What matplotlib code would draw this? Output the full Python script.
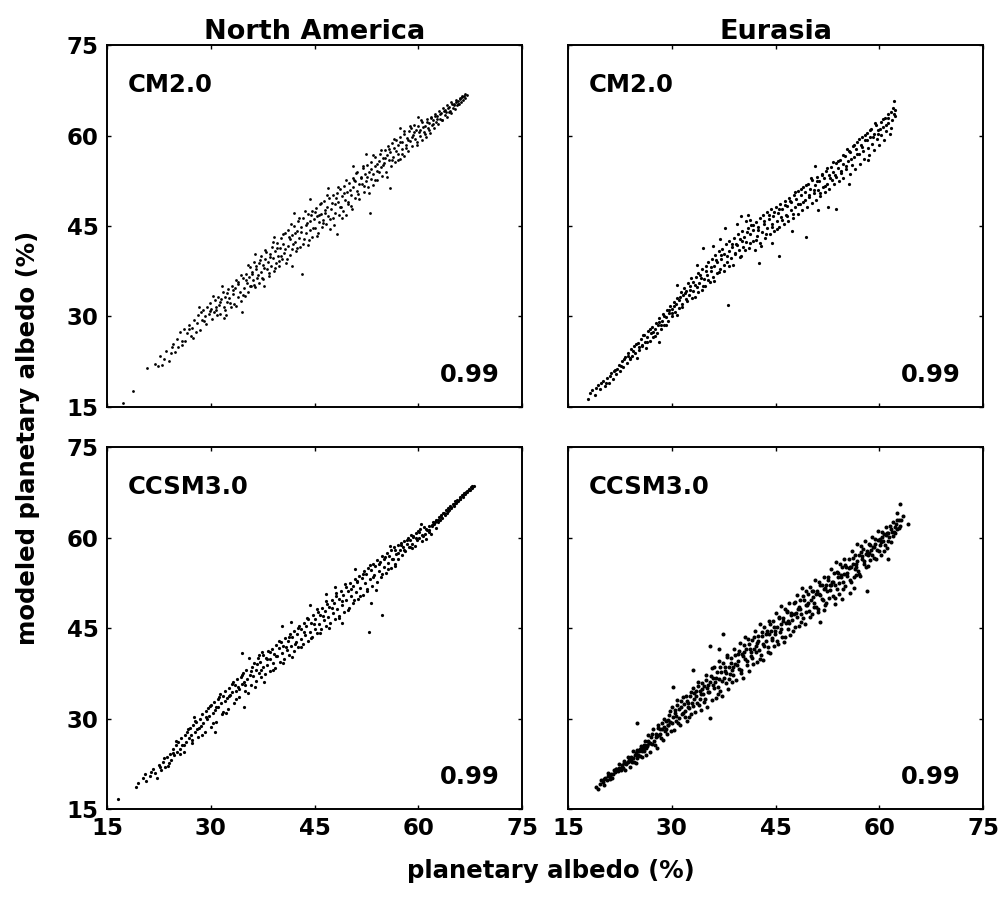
import numpy as np
import matplotlib.pyplot as plt

na_cm2 = [(17.3, 15.7), (18.8, 17.6), (20.8, 21.4),
    (22.0, 22.2), (22.4, 21.8), (22.6, 23.4), (23.0, 22.0), (23.3, 23.0), (23.5, 24.3), (23.9, 22.6), (24.2, 23.9), (24.6, 25.4), (24.8, 24.1),
    (25.1, 26.2), (25.3, 25.0), (25.6, 27.4), (25.8, 26.0), (26.1, 28.0), (26.3, 25.9), (26.6, 27.2), (26.8, 28.6), (27.1, 26.8), (27.3, 28.1), (27.6, 29.4), (27.8, 27.5),
    (28.0, 28.9), (28.2, 30.3), (28.4, 27.8), (28.7, 29.5), (28.9, 31.0), (29.1, 30.1), (29.3, 28.7), (29.5, 31.6), (29.7, 30.4), (29.9, 32.3), (30.1, 31.2), (30.2, 29.6),
    (30.4, 30.8), (30.6, 32.8), (30.7, 31.5), (30.9, 30.2), (31.0, 33.2), (31.2, 31.9), (31.4, 30.4), (31.5, 32.9), (31.7, 34.0), (31.9, 31.6), (32.0, 33.3), (32.2, 30.2),
    (32.3, 32.4), (32.5, 34.6), (32.7, 33.0), (32.9, 31.5), (33.0, 35.1), (33.2, 33.7), (33.4, 32.1), (33.5, 34.8), (33.7, 36.0), (33.9, 33.2), (34.0, 35.4), (34.2, 34.0),
    (34.3, 32.5), (34.5, 30.7), (34.6, 36.3), (34.8, 34.7), (34.9, 33.4), (35.1, 37.0), (35.2, 35.5), (35.4, 34.1), (35.5, 36.6), (35.7, 38.2), (35.8, 35.0), (36.0, 37.4),
    (36.1, 36.0), (36.3, 39.0), (36.4, 34.9), (36.6, 37.9), (36.7, 36.4), (36.9, 38.8), (37.0, 35.6), (37.2, 40.1), (37.3, 37.3), (37.5, 38.6), (37.6, 36.2), (37.8, 39.5),
    (37.9, 41.0), (38.1, 37.8), (38.2, 39.1), (38.4, 36.7), (38.5, 40.4), (38.7, 38.3), (38.8, 41.6), (39.0, 39.7), (39.1, 37.6), (39.3, 40.9), (39.4, 38.8), (39.6, 42.2),
    (39.7, 40.0), (39.9, 38.4), (40.0, 41.4), (40.2, 43.0), (40.3, 39.5), (40.5, 42.0), (40.6, 40.6), (40.8, 43.8), (40.9, 38.9), (41.1, 41.7), (41.2, 44.4), (41.4, 42.8),
    (41.5, 40.2), (41.7, 43.5), (41.8, 41.2), (42.0, 47.2), (42.0, 45.0), (42.2, 42.4), (42.3, 40.9), (42.5, 44.1), (42.6, 45.8), (42.8, 43.0), (42.9, 41.6), (43.1, 44.8),
    (43.2, 37.1), (43.4, 46.4), (43.5, 42.9), (43.7, 45.2), (43.8, 43.9), (44.0, 47.0), (44.1, 41.8), (44.3, 45.9), (44.4, 44.3), (44.6, 47.5), (44.7, 43.1), (44.9, 46.2),
    (45.0, 44.7), (45.2, 48.0), (45.3, 46.6), (45.5, 43.9), (45.6, 45.6), (45.8, 48.6), (45.9, 47.0), (46.1, 44.8), (46.2, 46.0), (46.4, 49.1), (46.5, 47.6), (46.7, 45.4),
    (46.8, 48.2), (47.0, 46.7), (47.1, 49.7), (47.3, 44.5), (47.4, 47.9), (47.6, 50.2), (47.7, 46.3), (47.9, 48.7), (48.0, 47.2), (48.3, 43.7), (48.2, 50.4), (48.4, 49.0),
    (48.5, 46.8), (48.7, 51.1), (48.8, 48.2), (49.0, 50.0), (49.1, 47.5), (49.3, 51.6), (49.4, 49.3), (49.6, 46.9), (49.7, 50.7), (49.9, 48.6), (50.0, 52.1), (50.2, 50.1),
    (50.3, 48.4), (50.5, 51.5), (50.6, 53.0), (50.8, 49.6), (50.9, 52.4), (51.1, 50.8), (51.2, 54.0), (51.4, 51.9), (51.5, 49.5), (51.7, 53.2), (51.8, 52.0), (52.0, 54.6),
    (52.1, 50.6), (52.3, 53.6), (52.4, 52.4), (52.6, 55.1), (52.7, 51.4), (53.0, 47.1), (52.9, 54.0), (53.1, 52.8), (53.2, 55.6), (53.4, 53.7), (53.5, 51.8), (53.7, 55.0),
    (53.8, 56.4), (54.0, 54.2), (54.1, 52.6), (54.3, 55.7), (54.4, 57.0), (54.6, 54.8), (54.7, 53.3), (54.9, 56.3), (55.0, 55.4), (55.2, 57.6), (55.3, 54.0), (55.5, 56.7),
    (55.6, 58.3), (55.9, 51.3), (55.8, 55.9), (55.9, 57.2), (56.1, 54.9), (56.2, 58.8), (56.4, 56.5), (56.5, 57.9), (56.7, 55.6), (56.8, 59.2), (57.0, 57.0), (57.1, 58.4),
    (57.3, 56.1), (57.4, 59.8), (57.6, 57.7), (57.7, 59.0), (57.9, 56.6), (58.0, 60.3), (58.2, 58.5), (58.3, 59.6), (58.5, 57.4), (58.6, 60.8), (58.8, 59.1), (58.9, 61.3),
    (59.1, 58.2), (59.2, 60.1), (59.4, 61.7), (59.5, 59.4), (59.7, 60.9), (59.8, 58.9), (60.0, 61.6), (60.2, 60.0), (60.3, 61.0), (60.5, 59.2), (60.6, 62.2), (60.8, 60.6),
    (60.9, 61.6), (61.1, 59.8), (61.2, 62.7), (61.4, 61.2), (61.5, 62.1), (61.7, 60.5), (61.8, 63.1), (62.0, 61.7), (62.1, 62.6), (62.3, 61.2), (62.4, 63.6), (62.6, 62.3),
    (62.7, 63.2), (62.9, 61.9), (63.0, 64.1), (63.2, 62.8), (63.3, 63.7), (63.5, 62.5), (63.6, 64.6), (63.8, 63.4), (63.9, 64.2), (64.1, 63.1), (64.2, 65.0), (64.4, 63.9),
    (64.5, 64.7), (64.7, 63.7), (64.8, 65.5), (65.0, 64.5), (65.1, 65.2), (65.3, 64.4), (65.4, 65.9), (65.6, 65.1), (65.7, 65.7), (65.9, 65.2), (66.0, 66.3), (66.2, 65.6),
    (66.3, 66.4), (66.5, 65.9), (66.6, 66.6), (66.8, 66.2), (67.0, 66.8)]

na_cm2_more = [(24.37, 24.9), (25.83, 25.2), (26.91, 27.9), (27.44, 26.5), (28.57, 30.8), (29.02, 29.2), (29.86, 30.9), (30.33, 33.4), (30.78, 31.0),
    (31.27, 32.4), (31.62, 35.1), (32.06, 31.1), (32.41, 33.9), (32.84, 32.2), (33.27, 34.4), (33.58, 31.8), (33.96, 35.8), (34.37, 36.8), (34.72, 33.6),
    (35.06, 36.1), (35.34, 38.6), (35.63, 35.1), (35.97, 37.0), (36.22, 35.3), (36.53, 38.4), (36.81, 36.9), (37.14, 39.4), (37.42, 36.4), (37.73, 38.1),
    (38.02, 40.7), (38.36, 37.2), (38.61, 39.8), (38.93, 42.3), (39.24, 38.1), (39.52, 41.3), (39.87, 39.2), (40.14, 40.1), (40.43, 43.6), (40.71, 41.2),
    (41.03, 39.6), (41.36, 43.1), (41.61, 45.4), (41.94, 42.0), (42.17, 43.8), (42.45, 41.3), (42.74, 46.4), (43.02, 44.0), (43.33, 42.1), (43.64, 47.5),
    (43.91, 45.5), (44.23, 42.7), (44.52, 46.9), (44.81, 44.7), (45.08, 47.4), (45.37, 43.4), (45.69, 46.8), (45.94, 48.9), (46.27, 45.5), (46.58, 47.2),
    (46.86, 50.1), (47.18, 46.1), (47.47, 48.8), (47.81, 45.1), (48.07, 49.6), (48.36, 51.5), (48.64, 48.1), (48.95, 46.3), (49.22, 50.5), (49.51, 52.6),
    (49.83, 49.0), (50.12, 50.9), (50.44, 47.9), (50.72, 52.7), (51.03, 53.8), (51.31, 50.3), (51.66, 52.9), (51.94, 55.0), (52.21, 51.7), (52.53, 53.2),
    (52.82, 50.4), (53.14, 54.5), (53.43, 56.8), (53.76, 52.7), (54.08, 55.3), (54.36, 53.9), (54.67, 57.6), (54.95, 55.1), (55.24, 56.3), (55.54, 53.2),
    (55.83, 57.8), (56.14, 56.0), (56.44, 59.4), (56.73, 57.4), (57.02, 55.9), (57.34, 58.9), (57.63, 57.0), (57.92, 60.8), (58.24, 58.0), (58.53, 59.3),
    (58.84, 61.6), (59.13, 59.8), (59.42, 60.6), (59.76, 58.4), (60.07, 60.6), (60.34, 62.6), (60.63, 61.5), (60.94, 60.3), (61.26, 62.2), (61.57, 61.0),
    (61.86, 62.9), (62.17, 61.9), (62.46, 63.3), (62.77, 62.7), (63.08, 63.6), (63.37, 62.6), (63.69, 64.0), (63.97, 63.9), (64.28, 64.6), (64.56, 64.0),
    (64.87, 65.2), (65.19, 65.0), (65.48, 65.6), (65.77, 65.3), (66.07, 66.1), (66.38, 66.6), (66.71, 66.9), (36.4, 40.4), (39.2, 43.2), (41.8, 38.4),
    (46.9, 51.3), (50.6, 54.9), (31.9, 29.7), (28.3, 31.6), (57.3, 61.2), (44.3, 49.4), (37.7, 35.1), (52.4, 57.0), (59.9, 63.1)]

eu_cm2 = [(17.9, 16.4), (18.5, 17.8), (18.9, 17.0), (19.3, 18.6), (19.6, 17.9), (20.0, 19.3), (20.3, 18.4), (20.6, 19.8), (20.9, 19.0), (21.2, 20.6), (21.5, 19.7),
    (21.8, 21.2), (22.0, 20.4), (22.3, 21.9), (22.5, 21.0), (22.8, 22.6), (23.0, 21.7), (23.2, 23.3), (23.5, 22.3), (23.7, 23.9), (23.9, 22.9), (24.1, 24.6), (24.3, 23.5),
    (24.5, 25.1), (24.7, 24.0), (24.9, 23.2), (25.1, 25.6), (25.3, 24.5), (25.5, 26.3), (25.7, 25.1), (25.9, 27.0), (26.1, 25.8), (26.2, 24.7), (26.4, 26.6), (26.6, 27.6),
    (26.8, 26.0), (27.0, 27.2), (27.1, 28.3), (27.3, 26.6), (27.5, 27.9), (27.7, 29.0), (27.9, 27.3), (28.0, 28.6), (28.2, 29.7), (28.4, 27.9), (28.6, 29.2), (28.7, 30.4),
    (28.9, 28.6), (29.1, 29.9), (29.3, 31.1), (29.4, 29.2), (29.6, 30.6), (29.8, 31.8), (30.0, 30.0), (30.1, 31.3), (30.3, 32.4), (30.5, 30.7), (30.6, 32.0), (30.8, 33.1),
    (31.0, 31.4), (31.1, 32.7), (31.3, 34.0), (31.5, 32.1), (31.6, 33.5), (31.8, 34.7), (32.0, 32.9), (32.1, 34.2), (32.3, 35.5), (32.5, 33.6), (32.6, 35.0), (32.8, 36.3),
    (33.0, 34.3), (33.1, 35.7), (33.3, 33.2), (33.5, 36.5), (33.6, 34.9), (33.8, 37.2), (34.0, 35.6), (34.1, 36.9), (34.3, 34.4), (34.5, 41.4), (34.4, 37.8), (34.6, 36.2),
    (34.8, 35.1), (35.0, 38.4), (35.1, 36.8), (35.3, 39.0), (35.5, 35.8), (35.6, 37.6), (35.9, 41.7), (35.8, 39.5), (36.0, 36.6), (36.1, 38.3), (36.3, 40.2), (36.5, 37.2),
    (36.6, 39.0), (36.8, 40.8), (37.0, 37.9), (37.1, 39.6), (37.3, 41.2), (37.7, 44.7), (37.5, 38.5), (37.6, 40.3), (37.8, 42.0), (38.0, 39.0), (38.1, 31.9), (38.2, 40.9),
    (38.3, 42.6), (38.5, 39.7), (38.7, 41.5), (38.8, 38.6), (39.0, 43.0), (39.2, 40.4), (39.3, 42.1), (39.5, 43.6), (39.7, 41.0), (39.8, 42.8), (40.0, 46.6), (40.0, 40.1),
    (40.2, 44.1), (40.3, 41.6), (40.5, 43.2), (40.7, 45.9), (40.8, 42.4), (41.0, 44.6), (41.3, 46.0), (41.2, 41.3), (41.3, 43.7), (41.5, 45.2), (41.7, 42.6), (41.8, 44.3),
    (42.0, 41.0), (42.2, 45.7), (42.3, 43.4), (42.5, 44.9), (42.7, 46.3), (42.8, 42.2), (43.0, 44.0), (43.2, 46.8), (43.3, 45.4), (43.5, 43.0), (43.7, 47.3), (43.8, 44.6),
    (44.0, 46.1), (44.2, 43.7), (44.3, 47.8), (44.5, 45.3), (44.7, 46.7), (44.8, 44.2), (45.0, 48.2), (45.2, 45.9), (45.5, 40.0), (45.3, 47.2), (45.5, 44.9), (45.7, 48.7),
    (45.8, 46.5), (46.0, 47.8), (46.2, 45.3), (46.3, 49.2), (46.5, 46.9), (46.7, 48.4), (46.8, 45.8), (47.0, 49.7), (47.2, 47.6), (47.3, 49.0), (47.5, 46.4), (47.7, 50.2),
    (47.8, 48.1), (48.0, 49.5), (48.2, 47.0), (48.3, 50.8), (48.5, 48.7), (48.7, 50.1), (48.8, 47.6), (49.0, 51.4), (49.2, 49.3), (49.4, 43.1), (49.3, 50.7), (49.5, 48.2),
    (49.7, 52.0), (49.8, 49.8), (50.0, 51.2), (50.2, 48.8), (50.3, 52.6), (50.5, 50.4), (50.7, 51.8), (50.8, 49.3), (51.0, 53.1), (51.2, 50.9), (51.3, 52.4), (51.5, 49.9),
    (51.7, 53.7), (51.8, 51.5), (52.0, 52.9), (52.2, 50.6), (52.3, 54.2), (52.6, 48.1), (52.5, 52.0), (52.7, 53.5), (52.8, 51.2), (53.0, 54.8), (53.2, 52.6), (53.7, 47.8),
    (53.3, 54.0), (53.5, 51.9), (53.7, 55.4), (53.8, 53.2), (54.0, 54.7), (54.2, 52.5), (54.3, 56.0), (54.5, 53.8), (54.7, 55.3), (54.8, 53.0), (55.0, 56.6), (55.2, 54.4),
    (55.3, 57.7), (55.5, 55.8), (55.7, 53.7), (55.8, 57.2), (56.0, 55.1), (56.2, 58.3), (56.3, 56.4), (56.5, 54.5), (56.7, 57.8), (56.8, 59.0), (57.0, 56.9), (57.2, 55.3),
    (57.3, 58.4), (57.5, 59.7), (57.7, 57.5), (57.8, 56.1), (58.0, 59.2), (58.2, 60.4), (58.3, 58.0), (58.5, 56.8), (58.7, 59.8), (58.8, 61.1), (59.0, 58.6), (59.2, 60.3),
    (59.3, 57.6), (59.5, 61.7), (59.7, 59.4), (59.8, 60.9), (60.0, 58.5), (60.2, 62.3), (60.3, 60.1), (60.5, 61.5), (60.7, 59.3), (60.8, 62.9), (61.0, 60.8), (61.2, 63.5),
    (61.3, 62.0), (61.5, 60.2), (61.7, 63.9), (61.8, 62.5), (62.0, 64.6), (62.1, 65.7), (62.2, 63.2), (62.3, 64.3)]

eu_cm2_more = [(18.23, 17.3), (19.04, 18.2), (19.77, 19.0), (20.46, 18.9), (21.03, 20.1), (21.67, 20.9), (22.14, 21.3), (22.66, 21.8), (23.08, 22.9),
    (23.61, 23.4), (24.02, 23.1), (24.44, 24.3), (24.86, 25.4), (25.22, 24.9), (25.63, 25.3), (26.04, 26.9), (26.47, 25.8), (26.92, 27.9), (27.26, 27.4),
    (27.63, 26.7), (28.08, 29.1), (28.47, 28.6), (28.84, 30.0), (29.23, 28.6), (29.58, 31.0), (29.96, 30.5), (30.38, 31.7), (30.72, 30.2), (31.16, 33.3),
    (31.44, 31.6), (31.87, 33.9), (32.22, 32.5), (32.63, 34.4), (32.97, 33.1), (33.38, 35.2), (33.76, 34.0), (34.17, 36.3), (34.56, 35.1), (34.93, 37.6),
    (35.24, 36.0), (35.68, 38.2), (36.04, 35.9), (36.41, 39.4), (36.77, 37.4), (37.16, 40.2), (37.53, 37.5), (37.94, 40.0), (38.28, 38.3), (38.66, 42.1),
    (39.07, 40.5), (39.42, 41.8), (39.83, 39.8), (40.16, 42.6), (40.57, 41.0), (40.94, 44.0), (41.37, 42.2), (41.72, 45.1), (42.14, 42.7), (42.51, 44.4),
    (42.92, 41.7), (43.27, 45.8), (43.64, 43.7), (44.06, 46.9), (44.43, 44.9), (44.82, 47.4), (45.18, 44.5), (45.57, 47.9), (45.96, 46.0), (46.32, 48.5),
    (46.71, 46.6), (47.13, 49.1), (47.48, 47.0), (47.87, 50.6), (48.26, 48.6), (48.61, 51.2), (49.04, 49.0), (49.42, 51.8), (49.83, 50.2), (50.17, 52.9),
    (50.56, 50.9), (50.94, 52.4), (51.36, 50.4), (51.73, 53.4), (52.12, 51.7), (52.47, 54.6), (52.88, 53.0), (53.26, 55.6), (53.64, 53.5), (54.03, 55.7),
    (54.42, 54.1), (54.81, 56.8), (55.16, 55.0), (55.57, 57.5), (55.93, 56.1), (56.34, 58.5), (56.72, 57.0), (57.11, 59.4), (57.46, 58.1), (57.87, 60.1),
    (58.26, 59.3), (58.61, 60.9), (59.04, 59.8), (59.43, 62.1), (59.81, 60.3), (60.17, 61.1), (60.56, 62.8), (60.92, 61.7), (61.33, 62.9), (61.71, 61.2),
    (62.06, 63.5), (33.7, 38.6), (36.9, 42.9), (39.4, 45.3), (41.0, 46.8), (47.4, 44.2), (51.2, 47.6), (55.6, 51.9), (30.7, 35.2), (28.1, 25.8),
    (44.5, 42.2), (58.4, 55.9), (50.7, 55.0), (42.6, 38.9)]

na_ccsm3 = [(16.6, 16.6), (19.2, 18.7), (19.5, 19.3), (20.2, 20.1), (20.7, 19.7), (21.2, 20.5), (21.6, 21.6), (22.0, 20.9), (22.2, 20.2), (22.5, 22.3), (22.8, 21.5),
    (23.1, 22.8), (23.4, 22.0), (23.6, 23.6), (23.9, 22.7), (24.1, 24.2), (24.3, 23.2), (24.5, 24.9), (24.7, 23.9), (24.9, 25.6), (25.1, 24.5), (25.3, 26.1), (25.5, 25.0),
    (25.7, 26.8), (25.9, 25.6), (26.1, 24.4), (26.2, 27.2), (26.4, 26.1), (26.6, 27.8), (26.8, 26.7), (27.0, 28.4), (27.1, 27.2), (27.3, 25.9), (27.5, 28.9), (27.7, 27.7),
    (27.9, 29.5), (28.0, 28.3), (28.2, 26.9), (28.4, 30.0), (28.6, 28.8), (28.7, 30.7), (28.9, 29.3), (29.1, 27.8), (29.3, 31.2), (29.4, 29.9), (29.6, 31.8), (29.8, 30.4),
    (30.0, 28.6), (30.1, 32.2), (30.3, 30.9), (30.5, 32.8), (30.6, 31.5), (30.8, 29.5), (31.0, 33.3), (31.1, 32.0), (31.3, 34.0), (31.5, 32.6), (31.6, 30.7), (31.8, 33.8),
    (32.0, 32.9), (32.1, 34.6), (32.3, 33.4), (32.5, 31.6), (32.6, 35.0), (32.8, 33.9), (33.0, 35.8), (33.1, 34.4), (33.3, 32.6), (33.5, 35.6), (33.6, 34.6), (33.8, 36.5),
    (34.0, 35.2), (34.1, 33.6), (34.5, 40.9), (34.3, 36.9), (34.5, 35.7), (34.6, 37.6), (34.8, 36.1), (35.0, 34.5), (35.1, 38.0), (35.3, 36.6), (35.5, 40.0), (35.6, 37.3),
    (35.8, 35.5), (36.0, 38.6), (36.1, 37.1), (36.3, 39.2), (36.5, 36.3), (36.6, 38.0), (36.8, 40.0), (37.0, 37.6), (37.1, 39.3), (37.3, 36.9), (37.5, 40.5), (37.6, 38.5),
    (37.8, 37.4), (38.0, 40.0), (38.1, 38.8), (38.3, 41.2), (38.5, 37.9), (38.6, 39.9), (38.8, 41.6), (39.0, 39.2), (39.1, 40.7), (39.3, 38.4), (39.5, 42.2), (39.6, 40.3),
    (39.8, 41.7), (40.0, 39.4), (40.3, 45.3), (40.1, 42.7), (40.3, 40.8), (40.5, 42.1), (40.6, 39.9), (40.8, 43.3), (41.0, 41.4), (41.1, 42.8), (41.3, 40.6), (41.5, 44.0),
    (41.6, 42.0), (41.8, 43.5), (42.0, 41.2), (42.1, 44.6), (42.3, 42.7), (42.5, 44.1), (42.6, 41.8), (42.8, 45.3), (43.0, 43.2), (43.1, 44.8), (43.3, 42.4), (43.5, 45.9),
    (43.6, 43.8), (43.8, 45.4), (44.0, 42.9), (44.1, 46.5), (44.3, 44.4), (44.5, 45.9), (44.6, 43.6), (44.8, 47.1), (45.0, 44.9), (45.1, 46.5), (45.3, 44.2), (45.5, 47.7),
    (45.6, 45.6), (45.8, 47.1), (46.0, 44.8), (46.1, 48.4), (46.3, 46.3), (46.5, 47.8), (46.6, 45.3), (46.8, 49.0), (47.0, 46.9), (47.1, 48.5), (47.3, 45.9), (47.5, 49.7),
    (47.6, 47.5), (47.8, 49.2), (48.0, 46.5), (48.1, 50.4), (48.3, 48.2), (48.5, 49.8), (48.6, 47.0), (48.8, 51.1), (49.0, 48.9), (49.1, 50.5), (49.3, 47.7), (49.5, 51.8),
    (49.6, 49.6), (49.8, 51.2), (50.0, 48.4), (50.1, 52.5), (50.3, 50.3), (50.5, 51.9), (50.6, 49.1), (50.8, 53.1), (51.0, 51.0), (51.1, 52.6), (51.3, 49.8), (51.5, 53.7),
    (51.6, 51.7), (51.8, 53.3), (52.0, 50.5), (52.1, 54.4), (52.3, 52.4), (52.9, 44.4), (52.5, 54.0), (52.6, 51.2), (52.8, 55.0), (53.0, 53.1), (53.1, 54.6), (53.3, 52.0),
    (53.5, 55.7), (53.6, 53.8), (53.8, 55.3), (54.0, 52.7), (54.1, 56.3), (54.3, 54.4), (54.7, 47.1), (54.5, 55.9), (54.6, 53.5), (54.8, 56.9), (55.0, 55.1), (55.1, 56.5),
    (55.3, 54.2), (55.5, 57.4), (55.6, 55.8), (55.8, 57.0), (56.0, 55.0), (56.1, 57.9), (56.3, 56.5), (56.5, 58.4), (56.6, 55.7), (56.8, 57.3), (57.0, 58.8), (57.1, 56.4),
    (57.3, 57.9), (57.5, 59.1), (57.6, 57.1), (57.8, 58.5), (58.0, 59.5), (58.1, 57.8), (58.3, 59.0), (58.5, 60.0), (58.6, 58.5), (58.8, 59.6), (59.0, 60.4), (59.1, 59.0),
    (59.3, 60.1), (59.5, 58.6), (59.6, 60.8), (59.8, 59.6), (60.0, 61.1), (60.1, 60.0), (60.3, 61.5), (60.5, 59.5), (60.6, 60.5), (60.8, 61.8), (61.0, 60.6), (61.1, 59.8),
    (61.3, 61.3), (61.5, 62.0), (61.6, 61.2), (61.8, 60.6), (62.0, 61.9), (62.1, 62.6), (62.3, 62.2), (62.5, 61.6), (62.6, 63.0), (62.8, 62.6), (63.0, 63.4), (63.1, 62.9),
    (63.3, 63.8), (63.5, 63.3), (63.6, 64.1), (63.8, 63.8), (64.0, 64.5), (64.1, 64.1), (64.3, 64.9), (64.5, 64.5), (64.6, 65.2), (64.8, 64.9), (65.0, 65.6), (65.1, 65.3),
    (65.3, 66.0), (65.5, 65.7), (65.6, 66.3), (65.8, 66.0), (66.0, 66.7), (66.1, 66.4), (66.3, 67.1), (66.5, 66.8), (66.6, 67.4), (66.8, 67.2), (67.0, 67.8), (67.1, 67.5),
    (67.3, 68.1), (67.5, 67.9), (67.6, 68.4), (67.8, 68.2), (68.0, 68.6)]

na_ccsm3_more = [(20.54, 20.8), (21.37, 21.2), (22.63, 21.9), (23.26, 23.5), (23.82, 22.1), (24.47, 24.3), (25.03, 26.3), (25.61, 24.2), (26.18, 25.7),
    (26.72, 28.3), (27.22, 26.4), (27.78, 29.6), (28.27, 28.5), (28.79, 27.3), (29.32, 30.3), (29.84, 32.1), (30.29, 29.2), (30.76, 31.9), (31.23, 33.5),
    (31.71, 31.1), (32.24, 30.9), (32.67, 33.7), (33.16, 36.1), (33.63, 33.3), (34.08, 34.9), (34.52, 37.3), (34.97, 35.5), (35.41, 34.3), (35.86, 37.9),
    (36.32, 35.3), (36.74, 39.1), (37.22, 38.0), (37.68, 36.0), (38.13, 39.9), (38.57, 41.0), (39.04, 38.1), (39.48, 40.4), (39.92, 42.8), (40.37, 39.2),
    (40.82, 41.8), (41.26, 43.6), (41.73, 40.2), (42.18, 42.3), (42.63, 45.0), (43.07, 41.9), (43.53, 44.3), (43.96, 46.7), (44.42, 43.4), (44.87, 45.6),
    (45.32, 48.1), (45.77, 44.2), (46.23, 47.0), (46.68, 49.5), (47.12, 45.0), (47.58, 48.3), (48.04, 50.9), (48.47, 46.6), (48.93, 49.5), (49.38, 52.3),
    (49.84, 48.0), (50.26, 51.5), (50.72, 49.6), (51.18, 52.8), (51.64, 50.4), (52.07, 53.9), (52.53, 51.5), (52.98, 55.4), (53.44, 53.4), (53.87, 51.3),
    (54.33, 55.6), (54.78, 54.0), (55.24, 56.8), (55.69, 54.8), (56.14, 56.5), (56.58, 57.9), (57.04, 57.5), (57.47, 58.7), (57.93, 58.0), (58.36, 59.6),
    (58.82, 58.4), (59.27, 60.3), (59.73, 59.9), (60.17, 60.9), (60.62, 60.3), (61.07, 61.4), (61.52, 60.9), (61.96, 62.1), (62.41, 62.6), (62.87, 62.9),
    (63.32, 63.4), (63.78, 64.0), (64.23, 64.4), (64.68, 65.0), (65.14, 65.5), (65.59, 66.1), (66.04, 66.4), (66.49, 67.0), (66.94, 67.5), (67.38, 67.9),
    (67.83, 68.5), (36.9, 40.5), (37.4, 41.1), (41.6, 46.0), (44.3, 48.9), (47.9, 51.8), (50.9, 54.8), (53.2, 49.2), (56.7, 55.3), (49.0, 45.9),
    (46.7, 50.6), (59.1, 58.2), (60.4, 62.2), (30.6, 27.8), (27.6, 30.2), (34.8, 31.9), (55.9, 58.6)]

eu_ccsm3 = [(19.1, 18.7), (19.4, 18.4), (19.8, 19.8), (20.0, 19.5), (20.2, 19.0), (20.4, 20.2), (20.6, 19.8), (20.8, 20.9), (21.0, 20.0), (21.2, 20.8), (21.4, 20.1),
    (21.6, 21.5), (21.8, 21.1), (22.0, 21.7), (22.2, 21.3), (22.4, 22.4), (22.6, 21.4), (22.8, 22.3), (23.0, 21.8), (23.15, 22.9), (23.3, 21.5), (23.45, 22.5), (23.6, 23.7),
    (23.75, 22.9), (23.9, 21.9), (24.05, 23.6), (24.2, 22.8), (24.35, 24.6), (24.5, 22.8), (24.65, 24.0), (24.8, 22.6), (24.95, 24.8), (25.1, 24.0), (25.25, 24.7),
    (25.4, 23.8), (25.55, 25.5), (25.7, 23.6), (25.85, 25.1), (26.0, 24.6), (26.15, 26.2), (26.3, 24.0), (26.45, 25.5), (26.6, 27.2), (26.75, 25.9), (26.9, 24.5),
    (27.05, 27.0), (27.2, 25.8), (27.35, 28.3), (27.5, 25.6), (27.65, 27.4), (27.8, 25.2), (27.95, 28.5), (28.1, 27.2), (28.25, 28.2), (28.4, 26.8), (28.55, 29.3),
    (28.7, 26.4), (28.85, 28.6), (29.0, 28.0), (29.15, 29.6), (29.3, 27.4), (29.45, 28.9), (29.6, 30.6), (29.75, 29.4), (29.9, 28.0), (30.05, 32.0), (30.2, 30.2),
    (30.35, 28.1), (30.5, 31.5), (30.65, 29.6), (30.8, 33.0), (30.95, 29.2), (31.1, 31.6), (31.25, 28.9), (31.4, 32.9), (31.55, 31.0), (31.7, 32.4), (31.85, 30.3),
    (32.0, 33.7), (32.15, 29.6), (32.3, 32.5), (32.45, 31.7), (32.6, 33.8), (32.75, 30.7), (32.9, 32.6), (33.05, 35.0), (33.2, 33.2), (33.35, 31.1), (33.5, 34.5),
    (33.65, 32.6), (33.8, 36.0), (33.95, 32.2), (34.1, 34.6), (34.25, 31.5), (34.4, 35.9), (34.55, 34.0), (34.7, 35.4), (34.85, 33.3), (35.0, 37.2), (35.15, 31.9),
    (35.3, 35.5), (35.45, 34.4), (35.6, 37.1), (35.75, 33.1), (35.9, 35.5), (36.05, 38.5), (36.2, 36.1), (36.35, 33.4), (36.5, 37.7), (36.65, 35.3), (36.8, 39.6),
    (36.95, 34.6), (37.1, 37.7), (37.25, 33.7), (37.4, 39.2), (37.55, 36.8), (37.7, 38.6), (37.85, 35.9), (38.0, 40.2), (38.15, 34.9), (38.3, 38.5), (38.45, 37.4),
    (38.6, 40.1), (38.75, 36.1), (38.9, 38.5), (39.05, 41.5), (39.2, 39.1), (39.35, 36.4), (39.5, 40.7), (39.65, 38.3), (39.8, 42.6), (39.95, 37.6), (40.1, 40.7),
    (40.25, 36.7), (40.4, 42.2), (40.55, 39.8), (40.7, 41.6), (40.85, 38.9), (41.0, 43.2), (41.15, 37.9), (41.3, 41.5), (41.45, 40.4), (41.6, 43.1), (41.75, 39.1),
    (41.9, 41.5), (42.05, 44.5), (42.2, 42.1), (42.35, 39.4), (42.5, 43.7), (42.65, 41.3), (42.8, 45.6), (42.95, 40.6), (43.1, 43.7), (43.25, 39.7), (43.4, 45.2),
    (43.55, 42.8), (43.7, 44.6), (43.85, 41.9), (44.0, 46.2), (44.15, 40.9), (44.3, 44.5), (44.45, 43.4), (44.6, 46.1), (44.75, 42.1), (44.9, 44.5), (45.05, 47.5),
    (45.2, 45.1), (45.35, 42.4), (45.5, 46.7), (45.65, 44.3), (45.8, 48.6), (45.95, 43.6), (46.1, 46.7), (46.25, 42.7), (46.4, 48.2), (46.55, 45.8), (46.7, 47.6),
    (46.85, 44.9), (47.0, 49.2), (47.15, 43.9), (47.3, 47.5), (47.45, 46.4), (47.6, 49.1), (47.75, 45.1), (47.9, 47.5), (48.05, 50.5), (48.2, 48.1), (48.35, 45.4),
    (48.5, 49.7), (48.65, 47.3), (48.8, 51.6), (48.95, 46.6), (49.1, 49.7), (49.25, 45.7), (49.4, 51.2), (49.55, 48.8), (49.7, 50.6), (49.85, 47.9), (50.0, 51.8),
    (50.15, 49.7), (50.3, 47.4), (50.45, 51.2), (50.6, 49.1), (50.75, 52.9), (50.9, 48.5), (51.05, 51.2), (51.2, 47.7), (51.35, 52.6), (51.5, 50.5), (51.65, 52.1),
    (51.8, 49.7), (51.95, 53.5), (52.1, 48.9), (52.25, 52.1), (52.4, 51.1), (52.55, 53.5), (52.7, 50.0), (52.85, 52.2), (53.0, 54.8), (53.15, 52.7), (53.3, 50.4),
    (53.45, 54.2), (53.6, 52.1), (53.75, 55.9), (53.9, 51.5), (54.05, 54.2), (54.2, 50.7), (54.35, 55.6), (54.5, 53.5), (54.65, 55.1), (54.8, 52.7), (54.95, 56.5),
    (55.1, 51.9), (55.25, 55.1), (55.4, 54.1), (55.55, 56.5), (55.7, 53.0), (55.85, 55.2), (56.0, 57.8), (56.15, 55.7), (56.3, 53.4), (56.45, 57.2), (56.6, 55.1),
    (56.75, 58.9), (56.9, 54.5), (57.05, 57.2), (57.2, 53.7), (57.35, 58.6), (57.5, 56.5), (57.65, 58.1), (57.8, 55.7), (57.95, 59.5), (58.1, 55.2), (58.25, 57.8),
    (58.4, 57.1), (58.55, 59.0), (58.7, 56.3), (58.85, 58.0), (59.0, 60.1), (59.15, 58.5), (59.3, 56.6), (59.45, 59.7), (59.6, 58.0), (59.75, 61.1), (59.9, 57.7),
    (60.05, 59.8), (60.2, 57.1), (60.35, 61.0), (60.5, 59.4), (60.65, 60.6), (60.8, 58.8), (60.95, 61.8), (61.1, 58.2), (61.25, 60.8), (61.4, 60.1), (61.55, 62.0),
    (61.7, 59.3), (61.85, 61.0), (62.0, 62.6), (62.2, 60.8), (62.4, 62.3), (62.6, 61.5), (62.8, 62.9), (63.0, 62.0), (63.2, 63.0),
    (63.0, 65.5), (64.1, 62.2), (24.9, 29.2), (30.2, 35.3), (35.5, 42.0), (37.4, 44.1), (35.5, 30.1), (51.4, 46.0), (52.0, 48.0), (58.2, 51.1), (61.3, 56.4),
    (62.5, 64.1), (63.4, 63.6), (56.3, 51.6), (54.6, 49.9)]

eu_ccsm3_more = [(19.62, 19.1), (20.13, 19.9), (20.71, 20.4), (21.12, 20.4), (21.53, 20.8), (21.94, 21.6), (22.31, 21.8), (22.73, 22.0), (23.07, 22.6),
    (23.39, 22.7), (23.82, 23.2), (24.13, 23.2), (24.41, 23.5), (24.76, 24.3), (25.04, 23.5), (25.37, 25.0), (25.69, 24.6), (25.97, 25.6), (26.26, 25.2),
    (26.58, 26.3), (26.87, 26.0), (27.14, 27.4), (27.42, 26.2), (27.73, 26.9), (28.02, 28.9), (28.33, 27.5), (28.62, 28.3), (28.91, 29.9), (29.23, 28.2),
    (29.52, 29.8), (29.81, 31.2), (30.09, 29.3), (30.41, 30.9), (30.72, 32.3), (30.99, 30.1), (31.32, 31.9), (31.61, 33.6), (31.93, 31.3), (32.21, 32.9),
    (32.53, 30.2), (32.84, 34.4), (33.12, 32.1), (33.43, 33.7), (33.74, 35.4), (34.03, 33.3), (34.34, 34.9), (34.63, 32.7), (34.94, 36.4), (35.22, 34.4),
    (35.51, 36.0), (35.83, 38.4), (36.14, 35.0), (36.43, 36.8), (36.74, 34.1), (37.03, 38.6), (37.32, 36.2), (37.64, 37.9), (37.93, 40.5), (38.22, 36.6),
    (38.54, 39.2), (38.83, 37.3), (39.14, 40.6), (39.43, 38.8), (39.72, 41.2), (40.03, 38.0), (40.34, 40.3), (40.63, 43.5), (40.94, 39.5), (41.23, 42.3),
    (41.54, 40.0), (41.83, 43.6), (42.13, 41.0), (42.43, 42.9), (42.74, 39.8), (43.03, 44.4), (43.34, 42.0), (43.62, 44.0), (43.93, 41.1), (44.24, 45.6),
    (44.53, 43.0), (44.83, 45.2), (45.14, 42.8), (45.43, 46.9), (45.72, 44.9), (46.04, 46.2), (46.33, 43.5), (46.64, 47.8), (46.93, 45.9), (47.22, 47.1),
    (47.53, 44.6), (47.84, 49.3), (48.13, 46.9), (48.42, 48.5), (48.73, 46.0), (49.04, 50.3), (49.34, 47.6), (49.63, 49.2), (49.94, 46.9), (50.24, 51.2),
    (50.53, 48.5), (50.84, 50.6), (51.13, 48.1), (51.42, 52.1), (51.73, 49.9), (52.04, 51.4), (52.33, 49.1), (52.64, 53.0), (52.93, 51.3), (53.24, 52.6),
    (53.53, 50.0), (53.84, 54.3), (54.13, 52.4), (54.44, 53.8), (54.73, 51.4), (55.04, 55.5), (55.33, 53.7), (55.62, 55.0), (55.94, 52.6), (56.23, 56.6),
    (56.54, 54.8), (56.83, 56.2), (57.13, 53.9), (57.42, 57.6), (57.74, 56.1), (58.03, 57.3), (58.33, 55.3), (58.63, 58.7), (58.93, 57.2), (59.22, 58.4),
    (59.54, 56.4), (59.83, 59.6), (60.13, 58.7), (60.43, 60.1), (60.74, 57.8), (61.04, 60.4), (61.33, 59.4), (61.63, 61.4), (61.94, 60.2), (62.24, 61.8),
    (62.53, 62.9), (62.86, 61.6), (30.56, 30.4), (31.47, 30.8), (32.38, 31.9), (33.26, 34.2), (34.17, 34.0), (35.08, 35.1), (35.94, 36.7), (36.87, 36.5),
    (37.78, 37.6), (38.69, 38.0), (39.57, 39.6), (40.46, 41.0), (41.38, 41.1), (42.27, 42.6), (43.18, 42.3), (44.07, 44.1), (44.96, 44.0), (45.86, 45.6),
    (46.78, 46.2), (47.67, 47.4), (48.58, 48.2), (49.47, 48.9), (50.39, 50.2), (51.27, 50.6), (52.18, 51.7), (53.07, 52.1), (53.98, 53.5), (54.87, 54.0),
    (55.78, 55.2), (56.68, 55.7), (57.57, 57.0), (58.47, 57.4), (59.38, 58.9), (60.27, 59.2), (61.18, 60.8), (62.07, 61.0), (27.9, 27.1), (29.4, 29.0),
    (26.4, 25.6), (25.0, 24.6), (23.6, 22.8), (22.1, 21.4), (33.0, 38.0), (36.8, 41.6), (53.6, 49.0), (55.8, 50.9), (56.6, 53.8)]

regions = ['North America', 'Eurasia']
models = ['CM2.0', 'CCSM3.0']
corr = [['0.99', '0.99'], ['0.99', '0.99']]
panels = [[na_cm2 + na_cm2_more, eu_cm2 + eu_cm2_more],
          [na_ccsm3 + na_ccsm3_more, eu_ccsm3 + eu_ccsm3_more]]
dot_size = [[2.0, 2.3], [2.3, 2.9]]
ticks = [15, 30, 45, 60, 75]

plt.rcParams['font.family'] = 'DejaVu Sans'
plt.rcParams['font.weight'] = 'bold'

fig = plt.figure(figsize=(10.07, 9.07), dpi=100)
lefts = [0.1063, 0.5641]
bottoms = [0.5513, 0.1080]
w, h = 0.4121, 0.3990

for i in range(2):
    for j in range(2):
        ax = fig.add_axes([lefts[j], bottoms[i], w, h])
        pts = np.array(panels[i][j])
        ax.plot(pts[:, 0], pts[:, 1], 'o', color='k', ms=dot_size[i][j], mew=0)
        ax.set_xlim(15, 75)
        ax.set_ylim(15, 75)
        ax.set_xticks(ticks)
        ax.set_yticks(ticks)
        ax.tick_params(direction='in', length=3, width=1, top=True, right=True,
                       labelsize=16.5, pad=6)
        if i == 0:
            ax.set_xticklabels([])
            ax.set_title(regions[j], fontsize=19.5, fontweight='bold', pad=4)
        if j == 1:
            ax.set_yticklabels([])
        for s in ax.spines.values():
            s.set_linewidth(1.4)
        ax.text(0.05, 0.87, models[i], transform=ax.transAxes, fontsize=17.5,
                fontweight='bold', va='baseline')
        ax.text(0.947, 0.068, corr[i][j], transform=ax.transAxes, fontsize=17.5,
                fontweight='bold', ha='right', va='baseline')

fig.text(0.547, 0.040, 'planetary albedo (%)', fontsize=17.6, fontweight='bold',
         ha='center', va='center')
fig.text(0.028, 0.517, 'modeled planetary albedo (%)', fontsize=17.6, fontweight='bold',
         ha='center', va='center', rotation=90)

fig.savefig('out.png', dpi=100)
